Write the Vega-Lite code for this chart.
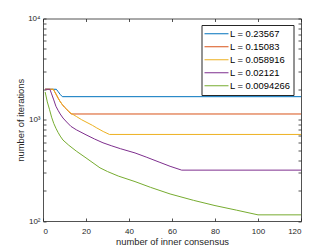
{
  "$schema": "https://vega.github.io/schema/vega-lite/v6.json",
  "autosize": {"type": "none"},
  "padding": {"left": 43, "top": 18.5, "right": 31, "bottom": 28},
  "width": 258,
  "height": 202.5,
  "data": {"values": [
    {"s": "L = 0.23567", "x": 1, "y": 2000},
    {"s": "L = 0.23567", "x": 6.2, "y": 2000},
    {"s": "L = 0.23567", "x": 7, "y": 1900},
    {"s": "L = 0.23567", "x": 8, "y": 1780},
    {"s": "L = 0.23567", "x": 9, "y": 1690},
    {"s": "L = 0.23567", "x": 120, "y": 1690},
    {"s": "L = 0.15083", "x": 1, "y": 2000},
    {"s": "L = 0.15083", "x": 4.8, "y": 2000},
    {"s": "L = 0.15083", "x": 6, "y": 1800},
    {"s": "L = 0.15083", "x": 7, "y": 1640},
    {"s": "L = 0.15083", "x": 8, "y": 1510},
    {"s": "L = 0.15083", "x": 9, "y": 1410},
    {"s": "L = 0.15083", "x": 10, "y": 1330},
    {"s": "L = 0.15083", "x": 11, "y": 1270},
    {"s": "L = 0.15083", "x": 12, "y": 1200},
    {"s": "L = 0.15083", "x": 13.2, "y": 1140},
    {"s": "L = 0.15083", "x": 120, "y": 1140},
    {"s": "L = 0.058916", "x": 1, "y": 2000},
    {"s": "L = 0.058916", "x": 4.8, "y": 2000},
    {"s": "L = 0.058916", "x": 6, "y": 1800},
    {"s": "L = 0.058916", "x": 7, "y": 1640},
    {"s": "L = 0.058916", "x": 8, "y": 1510},
    {"s": "L = 0.058916", "x": 9, "y": 1410},
    {"s": "L = 0.058916", "x": 10, "y": 1330},
    {"s": "L = 0.058916", "x": 11, "y": 1270},
    {"s": "L = 0.058916", "x": 12, "y": 1210},
    {"s": "L = 0.058916", "x": 13, "y": 1160},
    {"s": "L = 0.058916", "x": 15.5, "y": 1078},
    {"s": "L = 0.058916", "x": 18, "y": 1000},
    {"s": "L = 0.058916", "x": 20, "y": 950},
    {"s": "L = 0.058916", "x": 23, "y": 880},
    {"s": "L = 0.058916", "x": 25, "y": 830},
    {"s": "L = 0.058916", "x": 28, "y": 766},
    {"s": "L = 0.058916", "x": 30.9, "y": 716},
    {"s": "L = 0.058916", "x": 120, "y": 716},
    {"s": "L = 0.02121", "x": 1, "y": 2000},
    {"s": "L = 0.02121", "x": 3.2, "y": 2000},
    {"s": "L = 0.02121", "x": 4, "y": 1800},
    {"s": "L = 0.02121", "x": 5, "y": 1570},
    {"s": "L = 0.02121", "x": 6, "y": 1360},
    {"s": "L = 0.02121", "x": 7, "y": 1240},
    {"s": "L = 0.02121", "x": 8, "y": 1140},
    {"s": "L = 0.02121", "x": 9.3, "y": 1040},
    {"s": "L = 0.02121", "x": 11, "y": 950},
    {"s": "L = 0.02121", "x": 13, "y": 860},
    {"s": "L = 0.02121", "x": 15.5, "y": 796},
    {"s": "L = 0.02121", "x": 20, "y": 710},
    {"s": "L = 0.02121", "x": 24, "y": 645},
    {"s": "L = 0.02121", "x": 27.9, "y": 592},
    {"s": "L = 0.02121", "x": 32, "y": 552},
    {"s": "L = 0.02121", "x": 36, "y": 518},
    {"s": "L = 0.02121", "x": 42.8, "y": 470},
    {"s": "L = 0.02121", "x": 48, "y": 428},
    {"s": "L = 0.02121", "x": 54, "y": 382},
    {"s": "L = 0.02121", "x": 59.1, "y": 347},
    {"s": "L = 0.02121", "x": 64.5, "y": 318},
    {"s": "L = 0.02121", "x": 120, "y": 318},
    {"s": "L = 0.0094266", "x": 1, "y": 1880},
    {"s": "L = 0.0094266", "x": 2, "y": 1500},
    {"s": "L = 0.0094266", "x": 3, "y": 1270},
    {"s": "L = 0.0094266", "x": 4, "y": 1060},
    {"s": "L = 0.0094266", "x": 5, "y": 920},
    {"s": "L = 0.0094266", "x": 6, "y": 825},
    {"s": "L = 0.0094266", "x": 7, "y": 750},
    {"s": "L = 0.0094266", "x": 8, "y": 690},
    {"s": "L = 0.0094266", "x": 9.3, "y": 630},
    {"s": "L = 0.0094266", "x": 12, "y": 560},
    {"s": "L = 0.0094266", "x": 15.5, "y": 490},
    {"s": "L = 0.0094266", "x": 20, "y": 420},
    {"s": "L = 0.0094266", "x": 26.5, "y": 335},
    {"s": "L = 0.0094266", "x": 30, "y": 308},
    {"s": "L = 0.0094266", "x": 35, "y": 278},
    {"s": "L = 0.0094266", "x": 42.8, "y": 245},
    {"s": "L = 0.0094266", "x": 50, "y": 215},
    {"s": "L = 0.0094266", "x": 59.1, "y": 185},
    {"s": "L = 0.0094266", "x": 70, "y": 160},
    {"s": "L = 0.0094266", "x": 80, "y": 142},
    {"s": "L = 0.0094266", "x": 90, "y": 128},
    {"s": "L = 0.0094266", "x": 100, "y": 115},
    {"s": "L = 0.0094266", "x": 120, "y": 115}
  ]},
  "layer": [
    {
      "mark": {"type": "line", "strokeWidth": 1, "interpolate": "linear"},
      "encoding": {
        "x": {"field": "x", "type": "quantitative",
              "scale": {"domain": [0, 120], "nice": false, "zero": false},
              "axis": {"orient": "bottom", "values": [0, 20, 40, 60, 80, 100, 120], "title": "number of inner consensus",
                       "titleY": 20.7, "titleBaseline": "middle", "labelPadding": 9}},
        "y": {"field": "y", "type": "quantitative",
              "scale": {"type": "log", "domain": [100, 10000], "nice": false},
              "axis": {"orient": "left", "title": "number of iterations",
                       "values": [100, 200, 300, 400, 500, 600, 700, 800, 900, 1000, 2000, 3000, 4000, 5000, 6000, 7000, 8000, 9000, 10000],
                       "labelExpr": "datum.value == 100 ? '10²' : datum.value == 1000 ? '10³' : datum.value == 10000 ? '10⁴' : ''",
                       "titleX": -22.3, "titleY": 101.25, "titleBaseline": "middle", "titleAlign": "center", "titleAngle": -90,
                       "labelPadding": 6, "labelBaseline": "middle"}},
        "color": {"field": "s", "type": "nominal",
                  "scale": {"domain": ["L = 0.23567", "L = 0.15083", "L = 0.058916", "L = 0.02121", "L = 0.0094266"],
                            "range": ["#0072BD", "#D95319", "#EDB120", "#7E2F8E", "#77AC30"]},
                  "legend": {"title": null, "orient": "none", "legendX": 158.5, "legendY": 6.5, "padding": 2.5,
                             "strokeColor": "#262626", "fillColor": "white", "symbolType": "stroke", "symbolSize": 576,
                             "symbolStrokeWidth": 1, "labelFontSize": 9.4, "labelColor": "#000", "labelOffset": 1,
                             "rowPadding": 0, "clipHeight": 12.5}}
      }
    },
    {
      "mark": {"type": "line", "opacity": 0},
      "encoding": {
        "x": {"field": "x", "type": "quantitative",
              "axis": {"orient": "top", "values": [0, 20, 40, 60, 80, 100, 120], "labels": false, "title": null}},
        "y": {"field": "y", "type": "quantitative",
              "axis": {"orient": "right", "labels": false, "title": null,
                       "values": [100, 200, 300, 400, 500, 600, 700, 800, 900, 1000, 2000, 3000, 4000, 5000, 6000, 7000, 8000, 9000, 10000]}},
        "detail": {"field": "s"}
      }
    }
  ],
  "resolve": {"axis": {"x": "independent", "y": "independent"}},
  "config": {
    "view": {"stroke": null},
    "font": "Liberation Sans",
    "axis": {"grid": false, "domainColor": "#262626", "tickColor": "#262626", "labelColor": "#262626", "titleColor": "#262626",
             "tickSize": -3, "labelFontSize": 8, "titleFontSize": 9.4, "titleFontWeight": "normal", "domainWidth": 0.8, "tickWidth": 0.8}
  }
}
